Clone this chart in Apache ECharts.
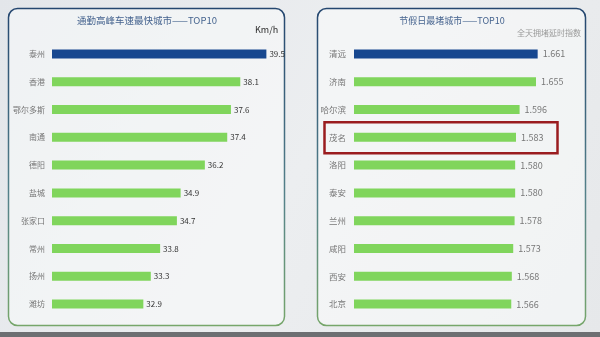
<!DOCTYPE html>
<html><head><meta charset="utf-8">
<script src="https://cdn.jsdelivr.net/npm/echarts@6/dist/echarts.min.js"></script>
<style>html,body{margin:0;padding:0;background:#e6e8eb;}#c{width:600px;height:337px;}</style>
</head><body><div id="c"></div>
<script>
const leftTitle = '通勤高峰车速最快城市——TOP10';
const leftUnit = 'Km/h';
const leftCities = ['泰州','香港','鄂尔多斯','南通','德阳','盐城','张家口','常州','扬州','潍坊'];
const leftValues = [39.5,38.1,37.6,37.4,36.2,34.9,34.7,33.8,33.3,32.9];
const rightTitle = '节假日最堵城市——TOP10';
const rightUnit = '全天拥堵延时指数';
const rightCities = ['清远','济南','哈尔滨','茂名','洛阳','泰安','兰州','咸阳','西安','北京'];
const rightValues = [1.661,1.655,1.596,1.583,1.580,1.580,1.578,1.573,1.568,1.566];
const highlightCity = '茂名';

const BLUE = '#17478f', GREEN = '#80d55c';
const font = '"Noto Sans CJK SC", "Noto Sans", sans-serif';
function colored(vals){ return vals.map((v,i)=>({value:v, itemStyle:{color: i===0?BLUE:GREEN}})); }
const borderGrad = {type:'linear',x:0,y:0,x2:0,y2:1,colorStops:[{offset:0,color:'#24466f'},{offset:0.6,color:'#55828a'},{offset:1,color:'#76a66a'}]};

const chart = echarts.init(document.getElementById('c'));
const option = {
  backgroundColor: {type:'linear',x:0,y:0,x2:1,y2:1,colorStops:[{offset:0,color:'#e3e6ea'},{offset:0.5,color:'#eceef0'},{offset:1,color:'#e6e8ea'}]},
  animation:false,
  graphic:[
    {type:'rect',z:-1,shape:{x:0,y:332,width:600,height:5},style:{fill:'#6d6f72'}},
    {type:'rect',z:-1,shape:{x:8.5,y:8.5,width:276,height:317,r:9},style:{fill:'rgba(250,251,252,0.55)',stroke:borderGrad,lineWidth:1.5}},
    {type:'rect',z:-1,shape:{x:317.5,y:8.5,width:268,height:317,r:9},style:{fill:'rgba(250,251,252,0.55)',stroke:borderGrad,lineWidth:1.5}},
    {type:'text',style:{text:leftTitle,x:147,y:16,fill:'#46648f',font:'9.5px '+font,textAlign:'center'}},
    {type:'text',style:{text:leftUnit,x:255,y:25,fill:'#2a2a2a',font:'9px '+font}},
    {type:'text',style:{text:rightTitle,x:452,y:16,fill:'#46648f',font:'9px '+font,textAlign:'center'}},
    {type:'text',style:{text:rightUnit,x:581,y:29,fill:'#9a9a9a',font:'8px '+font,textAlign:'right'}}
  ],
  grid:[
    {left:52,top:40,width:223.7,height:278},
    {left:354,top:40,width:194.5,height:278}
  ],
  xAxis:[
    {gridIndex:0,type:'value',min:28,max:40,show:false},
    {gridIndex:1,type:'value',min:1,max:1.7,show:false}
  ],
  yAxis:[
    {gridIndex:0,type:'category',data:leftCities,inverse:true,axisLine:{show:false},axisTick:{show:false},
     axisLabel:{color:'#777',fontSize:8,fontFamily:font,margin:7}},
    {gridIndex:1,type:'category',data:rightCities,inverse:true,axisLine:{show:false},axisTick:{show:false},
     axisLabel:{color:'#777',fontSize:8.5,fontFamily:font,margin:8}}
  ],
  series:[
    {type:'bar',xAxisIndex:0,yAxisIndex:0,data:colored(leftValues),barWidth:9,
     label:{show:true,position:'right',distance:3,color:'#333',fontSize:8,fontFamily:font,formatter:p=>p.value.toFixed(1)}},
    {type:'bar',xAxisIndex:1,yAxisIndex:1,data:colored(rightValues),barWidth:9,
     label:{show:true,position:'right',distance:5,color:'#777',fontSize:9,fontFamily:font,formatter:p=>p.value.toFixed(3)}}
  ]
};
chart.setOption(option);
const py = chart.convertToPixel({yAxisIndex:1}, highlightCity);
chart.setOption({graphic:option.graphic.concat([
  {type:'rect',z:10,shape:{x:324.5,y:py-15,width:233,height:31},style:{fill:'none',stroke:'#9a1c1f',lineWidth:2.5}}
])});
</script></body></html>
